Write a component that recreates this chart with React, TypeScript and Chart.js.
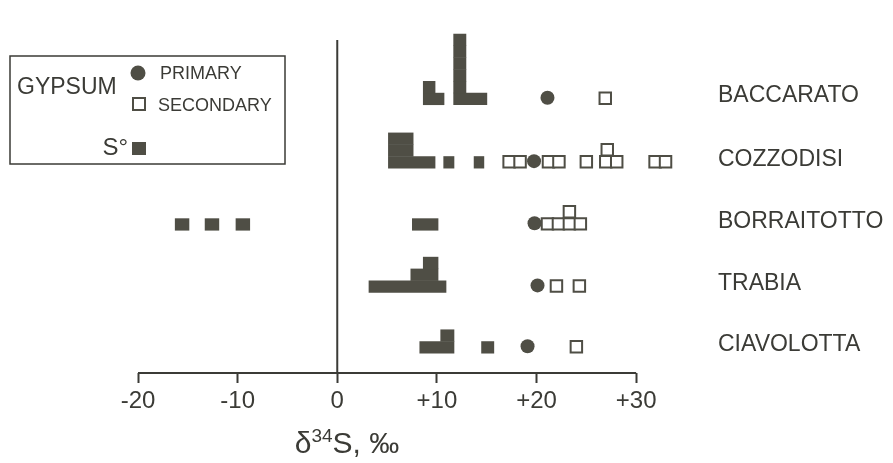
import React, { useEffect, useRef } from 'react';
import { Chart, registerables } from 'chart.js';
Chart.register(...registerables);

// ---------- data ----------
const rowNames = ['BACCARATO', 'COZZODISI', 'BORRAITOTTO', 'TRABIA', 'CIAVOLOTTA'];
// vertical position of each row's baseline (in square-height units above the x axis)
const rowBase = [22.71, 17.34, 12.08, 6.82, 1.67];

// S° (native sulfur) histogram columns: [from ‰, to ‰, count]
const sulfurBaccarato = [[8.6, 9.85, 2], [9.85, 10.75, 1], [11.65, 12.95, 6], [12.95, 15.05, 1]];
const sulfurCozzodisi = [[5.1, 7.65, 3], [7.65, 9.85, 1], [10.65, 11.75, 1], [13.7, 14.75, 1]];
const sulfurBorraitotto = [[-16.3, -14.85, 1], [-13.3, -11.85, 1], [-10.2, -8.75, 1], [7.5, 10.15, 1]];
const sulfurTrabia = [[3.15, 7.35, 1], [7.35, 8.6, 2], [8.6, 10.15, 3], [10.15, 10.95, 1]];
const sulfurCiavolotta = [[8.25, 10.35, 1], [10.35, 11.75, 2], [14.45, 15.75, 1]];
const sulfurColumns = [sulfurBaccarato, sulfurCozzodisi, sulfurBorraitotto, sulfurTrabia, sulfurCiavolotta];

// primary gypsum (one value per row, ‰)
const primaryGypsum = [21.1, 19.75, 19.8, 20.1, 19.1];

// secondary gypsum: [‰, stack level]
const secondaryBaccarato = [[26.9, 0]];
const secondaryCozzodisi = [[17.25, 0], [18.35, 0], [21.2, 0], [22.25, 0], [25.0, 0], [26.95, 0], [28.05, 0], [27.1, 1], [31.9, 0], [32.95, 0]];
const secondaryBorraitotto = [[21.1, 0], [22.2, 0], [23.3, 0], [24.4, 0], [23.3, 1]];
const secondaryTrabia = [[22.0, 0], [24.3, 0]];
const secondaryCiavolotta = [[24.0, 0]];
const secondaryGypsum = [secondaryBaccarato, secondaryCozzodisi, secondaryBorraitotto, secondaryTrabia, secondaryCiavolotta];

const xTicks = [-20, -10, 0, 10, 20, 30];
const AXIS_START = -20;
const AXIS_END = 30;
const X_MIN = -20;
const X_MAX = 34;
const Y_MAX = 28.2;

// ---------- style ----------
const FONT = '"Liberation Sans", Arial, Helvetica, sans-serif';
const FILL = '#4f4e45';
const INK = '#3b3b36';

function buildLayers() {
  const out: { x: number[]; y: number }[] = [];
  sulfurColumns.forEach((cols, r) => {
    const maxC = Math.max(...cols.map((c) => c[2]));
    for (let k = 0; k < maxC; k++) {
      const segs = cols
        .filter((c) => c[2] > k)
        .map((c) => [c[0], c[1]])
        .sort((a, b) => a[0] - b[0]);
      const merged: number[][] = [];
      segs.forEach((s) => {
        const last = merged[merged.length - 1];
        if (last && Math.abs(last[1] - s[0]) < 0.05) last[1] = Math.max(last[1], s[1]);
        else merged.push([s[0], s[1]]);
      });
      merged.forEach((m) => out.push({ x: m, y: rowBase[r] + k + 0.5 }));
    }
  });
  return out;
}

const textPlugin = {
  id: 'figureText',
  afterDraw(chart: any) {
    const ctx = chart.ctx;
    const ys = chart.scales.y;
    ctx.save();
    ctx.fillStyle = INK;
    ctx.textBaseline = 'middle';
    ctx.textAlign = 'left';
    // row labels
    ctx.font = `23px ${FONT}`;
    rowNames.forEach((n, i) => {
      ctx.fillText(n, 718, ys.getPixelForValue(rowBase[i] + 0.75));
    });

    // axis title δ34S, ‰
    const big = `30px ${FONT}`;
    const small = `19px ${FONT}`;
    ctx.textBaseline = 'alphabetic';
    ctx.font = big;
    const w1 = ctx.measureText('δ').width;
    const w3 = ctx.measureText('S, ‰').width;
    ctx.font = small;
    const w2 = ctx.measureText('34').width;
    let tx = 347 - (w1 + w2 + w3) / 2;
    const ty = 453;
    ctx.font = big;
    ctx.fillText('δ', tx, ty);
    tx += w1;
    ctx.font = small;
    ctx.fillText('34', tx, ty - 11);
    tx += w2;
    ctx.font = big;
    ctx.fillText('S, ‰', tx, ty);

    // legend box
    ctx.strokeStyle = INK;
    ctx.lineWidth = 1.5;
    ctx.strokeRect(10, 56, 275, 108);
    ctx.textBaseline = 'middle';
    ctx.font = `23px ${FONT}`;
    ctx.fillText('GYPSUM', 17, 88);
    ctx.font = `18px ${FONT}`;
    ctx.fillText('PRIMARY', 160, 74);
    ctx.fillText('SECONDARY', 158, 106);
    ctx.font = `24px ${FONT}`;
    ctx.textAlign = 'right';
    ctx.fillText('S°', 128, 148);
    // legend markers
    ctx.fillStyle = FILL;
    ctx.beginPath();
    ctx.arc(138, 73, 7.5, 0, Math.PI * 2);
    ctx.fill();
    ctx.fillRect(132, 142, 14, 13);
    ctx.fillStyle = '#ffffff';
    ctx.strokeStyle = FILL;
    ctx.lineWidth = 2;
    ctx.fillRect(133, 98, 12, 12);
    ctx.strokeRect(133, 98, 12, 12);
    ctx.restore();
  },
};

export default function App() {
  const ref = useRef<HTMLCanvasElement | null>(null);
  useEffect(() => {
    if (!ref.current) return;
    const layers = buildLayers();
    const primary = primaryGypsum.map((x, r) => ({ x, y: rowBase[r] + 0.6 }));
    const secondary: { x: number; y: number }[] = [];
    secondaryGypsum.forEach((pts, r) => pts.forEach((p) => secondary.push({ x: p[0], y: rowBase[r] + p[1] * 1.02 + 0.55 })));

    const chart = new Chart(ref.current, {
      type: 'bar',
      data: {
        datasets: [
          {
            type: 'line',
            label: 'zero',
            data: [{ x: 0, y: 0 }, { x: 0, y: Y_MAX }],
            borderColor: INK,
            borderWidth: 2,
            pointRadius: 0,
            fill: false,
            clip: false,
          } as any,
          {
            type: 'line',
            label: 'axis',
            data: [{ x: AXIS_START, y: 0 }, { x: AXIS_END, y: 0 }],
            borderColor: INK,
            borderWidth: 2,
            pointRadius: 0,
            fill: false,
            clip: false,
          } as any,
          {
            type: 'bar',
            label: 'S°',
            indexAxis: 'y',
            data: layers,
            backgroundColor: FILL,
            borderWidth: 0,
            barPercentage: 1.04,
            categoryPercentage: 1,
            grouped: false,
            clip: false,
          } as any,
          {
            type: 'scatter',
            label: 'primary',
            data: primary,
            pointStyle: 'circle',
            pointRadius: 7,
            backgroundColor: FILL,
            borderWidth: 0,
            clip: false,
          } as any,
          {
            type: 'scatter',
            label: 'secondary',
            data: secondary,
            pointStyle: 'rect',
            pointRadius: 8.1,
            backgroundColor: '#ffffff',
            borderColor: FILL,
            borderWidth: 2,
            clip: false,
          } as any,
        ],
      },
      options: {
        animation: false,
        responsive: true,
        maintainAspectRatio: false,
        events: [],
        layout: { padding: { left: 138, right: 217, top: 40, bottom: 0 } },
        plugins: { legend: { display: false }, tooltip: { enabled: false }, title: { display: false } },
        scales: {
          x: {
            type: 'linear',
            offset: false,
            min: X_MIN,
            max: X_MAX,
            afterBuildTicks: (s: any) => {
              s.ticks = xTicks.map((v) => ({ value: v }));
            },
            afterFit: (s: any) => {
              s.height = 90;
            },
            ticks: {
              callback: (v: any) => (Number(v) > 0 ? '+' + v : String(v)),
              font: { family: FONT, size: 24 },
              color: INK,
              padding: 4,
              maxRotation: 0,
              autoSkip: false,
            },
            grid: { offset: false, drawOnChartArea: false, drawTicks: true, tickLength: 10, tickColor: INK, tickWidth: 2 },
            border: { display: false },
          },
          y: {
            type: 'linear',
            display: false,
            offset: false,
            min: 0,
            max: Y_MAX,
            grid: { offset: false },
            afterBuildTicks: (s: any) => {
              s.ticks = [{ value: 0 }];
            },
          },
        },
      } as any,
      plugins: [textPlugin],
    });
    return () => chart.destroy();
  }, []);
  return (
    <div style={{ position: 'fixed', left: 0, top: 0, width: 893, height: 463, background: '#fff' }}>
      <canvas ref={ref} />
    </div>
  );
}
